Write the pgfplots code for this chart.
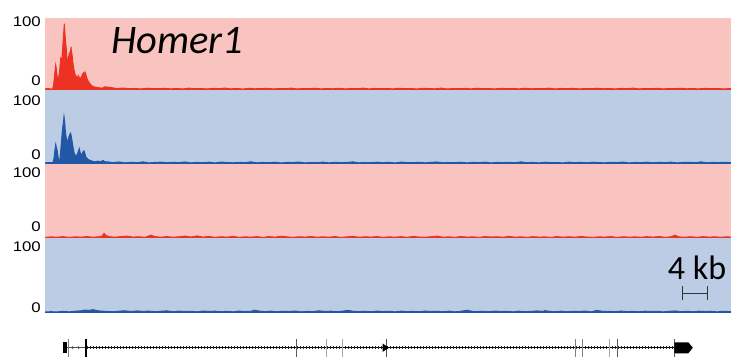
\documentclass[border=0pt]{standalone}
\usepackage{pgfplots}
\pgfplotsset{compat=1.18}
\usepackage{fontspec}
\setmainfont{Liberation Sans}
\newfontfamily\carlito{Carlito}
\newfontfamily\tickfont{Liberation Sans}
\definecolor{pinkbg}{RGB}{249,196,191}
\definecolor{bluebg}{RGB}{188,204,228}
\definecolor{sigred}{RGB}{237,50,36}
\definecolor{sigblue}{RGB}{33,87,165}
\pgfplotsset{track/.style={scale only axis, width=686pt, xmin=0, xmax=686, ymin=0, ymax=100,
  axis line style={draw=none}, xtick=\empty, major tick length=0pt,
  yticklabel style={font=\tickfont\fontsize{14}{14}\selectfont, anchor=east, inner sep=0pt, xshift=-4pt},
  anchor=south west, clip=true}}
\newcommand{\lab}[1]{\scalebox{1.2}[1]{#1}}
\begin{document}
\begin{tikzpicture}[x=1pt,y=1pt]
\useasboundingbox (0pt,0pt) rectangle (731pt,363pt);
% Track 1
\begin{axis}[track, at={(45pt,273pt)}, height=72pt, axis background/.style={fill=pinkbg},
  ytick={13.2,94.9}, yticklabels={{\lab{0}},{\lab{100}}}]
\addplot[fill=sigred, draw=sigred, line width=0.9pt] table[row sep=\\] {x y\\ 0 1.5\\ 3 2\\ 6 1.5\\ 7.5 1\\ 8.5 6\\ 9.5 20\\ 10.7 35\\ 11.5 28\\ 12.3 18\\ 13.3 15\\ 14.5 25\\ 15.7 44\\ 16.7 40\\ 17.5 55\\ 18.3 72\\ 19.3 92\\ 20 78\\ 20.7 66\\ 21.3 58\\ 22.3 35\\ 23 42\\ 23.7 47\\ 24.3 51\\ 25 45\\ 25.7 55\\ 26 60\\ 26.5 54\\ 27 50\\ 27.5 44\\ 28.3 34\\ 29.3 26\\ 30.3 21\\ 31.3 19\\ 32.5 17\\ 33.3 20\\ 34 18\\ 35.5 16\\ 36.7 19\\ 37.5 22\\ 38.3 24\\ 39.3 21\\ 40 25\\ 40.8 22\\ 41.7 17\\ 43 13\\ 44.3 10\\ 45.5 8\\ 46.7 6\\ 48 5\\ 50 4\\ 52 3.5\\ 55 3\\ 57 2.5\\
60 4.5\\ 66 3.5\\ 72 2\\ 78 2.8\\ 84 1.8\\ 90 2.2\\ 96 1.5\\ 102 2.5\\ 108 2\\ 114 1.8\\ 120 2.4\\ 126 1.6\\ 132 2.2\\ 138 1.4\\ 144 2.6\\ 150 1.8\\ 156 2.1\\ 162 1.5\\ 168 2.3\\ 174 1.9\\ 180 2.7\\ 186 1.6\\ 192 2.2\\ 198 1.3\\ 204 2.5\\ 210 1.7\\ 216 2.0\\ 222 2.4\\ 228 1.5\\ 234 2.1\\ 240 1.8\\ 246 2.6\\ 252 1.4\\ 258 2.2\\ 264 1.9\\ 270 2.5\\ 276 1.6\\ 282 2.1\\ 288 1.7\\ 294 2.4\\ 300 1.5\\ 306 2.2\\ 312 1.8\\ 318 2.6\\ 324 1.5\\ 330 2.3\\ 336 1.9\\ 342 2.1\\ 348 1.6\\ 354 2.5\\ 360 1.8\\ 366 2.2\\ 372 1.4\\ 378 2.4\\ 384 2.0\\ 390 1.7\\ 396 2.6\\ 402 1.5\\ 408 2.1\\ 414 1.9\\ 420 2.3\\ 426 1.6\\ 432 2.5\\ 438 1.8\\ 444 2.0\\ 450 1.5\\ 456 2.4\\ 462 1.9\\ 468 2.2\\ 474 1.6\\ 480 2.5\\ 486 1.7\\ 492 2.1\\ 498 1.8\\ 504 2.6\\ 510 1.5\\ 516 2.2\\ 522 1.9\\ 528 2.4\\ 534 1.6\\ 540 2.1\\ 546 1.8\\ 552 2.5\\ 558 1.7\\ 564 2.2\\ 570 1.5\\ 576 2.3\\ 582 1.9\\ 588 2.6\\ 594 1.6\\ 600 2.1\\ 606 1.8\\ 612 2.4\\ 618 1.5\\ 624 2.2\\ 630 1.9\\ 636 2.5\\ 642 1.7\\ 648 2.0\\ 654 1.6\\ 660 2.4\\ 666 1.8\\ 672 2.1\\ 678 1.6\\ 686 2.0\\} \closedcycle;
\end{axis}
% Track 2
\begin{axis}[track, at={(45pt,199pt)}, height=73.5pt, axis background/.style={fill=bluebg},
  ytick={12.7,86.4}, yticklabels={{\lab{0}},{\lab{100}}}]
\addplot[fill=sigblue, draw=sigblue, line width=0.9pt] table[row sep=\\] {x y\\ 0 1.5\\ 3 2\\ 6 1.8\\ 8 2\\ 9 8\\ 10 20\\ 10.7 27\\ 11.5 22\\ 12.3 18\\ 13.3 8\\ 14 2\\ 15 8\\ 15.7 18\\ 16.7 35\\ 17.7 50\\ 18.3 55\\ 19 65\\ 19.7 58\\ 20.3 46\\ 21 38\\ 21.7 32\\ 22.5 30\\ 23.7 36\\ 24.7 40\\ 25.7 42\\ 26.3 38\\ 27 32\\ 28.3 21\\ 29.3 14\\ 30.5 12\\ 31.7 11\\ 33 16\\ 34.3 21\\ 35.5 14\\ 36.5 12\\ 37.7 16\\ 39 18\\ 40 14\\ 41 9\\ 42 8\\ 43.3 6\\ 45 5\\ 47 4\\ 50 3\\ 53 4\\ 56 3\\ 58 5\\ 60 3\\
62 3\\ 68 2\\ 74 2.8\\ 80 1.6\\ 86 2.4\\ 92 1.8\\ 98 2.9\\ 104 1.5\\ 110 2.2\\ 116 2.6\\ 122 1.7\\ 128 2.3\\ 134 1.9\\ 140 2.8\\ 146 1.6\\ 152 2.2\\ 158 1.8\\ 164 2.5\\ 170 1.5\\ 176 2.7\\ 182 2.0\\ 188 1.7\\ 194 2.4\\ 200 1.9\\ 206 3.0\\ 212 1.6\\ 218 2.2\\ 224 1.8\\ 230 2.5\\ 236 1.4\\ 242 2.3\\ 248 2.0\\ 254 2.7\\ 260 1.6\\ 266 2.1\\ 272 1.9\\ 278 2.6\\ 284 1.5\\ 290 2.4\\ 296 1.8\\ 302 2.2\\ 308 2.9\\ 314 1.6\\ 320 2.1\\ 326 1.8\\ 332 2.5\\ 338 1.7\\ 344 2.3\\ 350 1.5\\ 356 2.6\\ 362 2.0\\ 368 1.8\\ 374 2.4\\ 380 1.6\\ 386 2.2\\ 392 2.8\\ 398 1.7\\ 404 2.1\\ 410 1.9\\ 416 2.5\\ 422 1.6\\ 428 2.3\\ 434 1.8\\ 440 2.6\\ 446 1.5\\ 452 2.2\\ 458 1.9\\ 464 2.4\\ 470 1.7\\ 476 2.9\\ 482 1.8\\ 488 2.2\\ 494 1.6\\ 500 2.5\\ 506 1.9\\ 512 2.1\\ 518 1.5\\ 524 2.6\\ 530 1.8\\ 536 2.3\\ 542 1.7\\ 548 2.5\\ 554 2.0\\ 560 1.6\\ 566 2.4\\ 572 1.9\\ 578 2.7\\ 584 1.5\\ 590 2.2\\ 596 1.8\\ 602 2.5\\ 608 1.7\\ 614 2.3\\ 620 1.9\\ 626 2.6\\ 632 1.6\\ 638 2.1\\ 644 2.4\\ 650 1.8\\ 656 2.9\\ 662 1.7\\ 668 2.2\\ 674 1.9\\ 680 2.4\\ 686 1.8\\} \closedcycle;
\end{axis}
% Track 3
\begin{axis}[track, at={(45pt,124.5pt)}, height=74.5pt, axis background/.style={fill=pinkbg},
  ytick={15.8,88}, yticklabels={{\lab{0}},{\lab{100}}}]
\addplot[fill=sigred, draw=sigred, line width=0.9pt] table[row sep=\\] {x y\\ 0 1.6\\ 6 2.2\\ 12 1.8\\ 18 2.5\\ 24 1.5\\ 30 2.3\\ 36 1.9\\ 42 2.6\\ 48 1.7\\ 54 2.4\\ 57 3\\ 59 7\\ 61 4\\ 64 2.5\\ 70 1.8\\ 76 2.6\\ 82 3.2\\ 88 1.9\\ 94 2.4\\ 100 1.6\\ 106 4.5\\ 110 2.5\\ 116 1.8\\ 122 2.6\\ 128 1.7\\ 134 2.3\\ 140 3.2\\ 146 2.0\\ 152 3.5\\ 158 1.9\\ 164 2.8\\ 170 1.6\\ 176 2.4\\ 182 1.8\\ 188 2.9\\ 194 1.6\\ 200 2.2\\ 206 1.9\\ 212 2.5\\ 218 1.5\\ 224 2.6\\ 230 1.8\\ 236 3.1\\ 242 2.2\\ 248 1.6\\ 254 2.4\\ 260 1.9\\ 266 2.7\\ 272 1.7\\ 278 2.3\\ 284 1.8\\ 290 2.6\\ 296 1.5\\ 302 2.2\\ 308 2.9\\ 314 1.7\\ 320 2.4\\ 326 1.9\\ 332 2.6\\ 338 1.6\\ 344 2.3\\ 350 1.8\\ 356 2.5\\ 362 1.6\\ 368 2.8\\ 374 2.0\\ 380 1.7\\ 386 2.4\\ 392 3.2\\ 398 1.8\\ 404 2.2\\ 410 1.6\\ 416 2.7\\ 422 1.9\\ 428 2.3\\ 434 1.5\\ 440 2.6\\ 446 2.0\\ 452 2.4\\ 458 1.7\\ 464 2.9\\ 470 1.8\\ 476 2.3\\ 482 1.6\\ 488 2.5\\ 494 1.9\\ 500 2.2\\ 506 1.5\\ 512 2.6\\ 518 1.8\\ 524 2.4\\ 530 1.7\\ 536 2.8\\ 542 2.0\\ 548 1.6\\ 554 2.3\\ 560 1.9\\ 566 2.6\\ 572 1.5\\ 578 2.4\\ 584 1.8\\ 590 2.2\\ 596 1.7\\ 602 2.5\\ 608 1.9\\ 614 2.7\\ 620 1.6\\ 626 2.3\\ 630 4.5\\ 634 2.1\\ 640 1.8\\ 646 2.4\\ 652 1.6\\ 658 2.5\\ 664 1.9\\ 670 2.3\\ 676 1.7\\ 682 2.4\\ 686 1.8\\} \closedcycle;
\end{axis}
% Track 4
\begin{axis}[track, at={(45pt,50pt)}, height=74.5pt, axis background/.style={fill=bluebg},
  ytick={6.5,88.6}, yticklabels={{\lab{0}},{\lab{100}}}]
\addplot[fill=sigblue, draw=sigblue, line width=0.9pt] table[row sep=\\] {x y\\ 0 1.4\\ 6 1.8\\ 12 1.5\\ 18 2.2\\ 24 1.6\\ 30 2.4\\ 36 3.0\\ 40 4.0\\ 44 3.5\\ 48 4.5\\ 52 3.2\\ 56 2.6\\ 62 2.2\\ 68 1.7\\ 74 2.5\\ 80 3.0\\ 86 2.1\\ 92 2.8\\ 98 2.2\\ 104 2.6\\ 110 1.8\\ 116 2.4\\ 122 2.9\\ 128 1.7\\ 134 2.6\\ 140 2.0\\ 146 2.4\\ 152 1.6\\ 158 2.7\\ 164 2.1\\ 170 2.5\\ 176 1.8\\ 182 2.3\\ 188 1.6\\ 194 2.6\\ 200 2.0\\ 206 2.4\\ 210 3.8\\ 214 2.6\\ 220 1.9\\ 226 2.5\\ 232 1.7\\ 238 2.3\\ 244 2.0\\ 250 2.7\\ 256 1.6\\ 262 2.2\\ 268 1.9\\ 274 3.0\\ 280 2.1\\ 286 2.5\\ 292 1.8\\ 298 2.6\\ 303 3.5\\ 308 2.4\\ 314 1.9\\ 320 2.3\\ 326 1.7\\ 332 2.6\\ 338 2.0\\ 344 2.4\\ 350 1.6\\ 356 2.5\\ 362 1.9\\ 368 2.2\\ 374 1.7\\ 380 2.6\\ 386 2.1\\ 392 2.4\\ 398 1.8\\ 404 2.5\\ 410 1.6\\ 416 2.3\\ 422 3.8\\ 426 2.5\\ 432 1.9\\ 438 2.4\\ 444 1.7\\ 450 2.6\\ 456 2.0\\ 462 2.3\\ 468 1.6\\ 474 2.5\\ 480 1.9\\ 486 2.2\\ 492 2.8\\ 498 2.2\\ 500 3.2\\ 504 2.4\\ 510 1.8\\ 516 2.5\\ 522 1.7\\ 528 2.3\\ 534 2.0\\ 540 2.6\\ 546 1.6\\ 552 3.5\\ 558 2.1\\ 564 2.4\\ 570 1.8\\ 576 2.6\\ 582 1.9\\ 588 2.3\\ 594 1.7\\ 600 2.5\\ 606 2.0\\ 612 2.4\\ 618 1.6\\ 624 2.2\\ 630 2.8\\ 636 1.8\\ 642 2.4\\ 648 1.7\\ 654 2.5\\ 660 2.0\\ 666 2.3\\ 672 1.6\\ 678 2.4\\ 686 1.9\\} \closedcycle;
\end{axis}
% Gene model
\begin{axis}[scale only axis, at={(45pt,0pt)}, anchor=south west, width=686pt, height=30pt,
  xmin=0, xmax=686, ymin=0, ymax=30, hide axis, clip=false]
\draw[black!70, line width=0.5pt] (axis cs:21.7,15.3) -- (axis cs:40.7,15.3);
\draw[black!70, line width=0.5pt] (axis cs:27,16.8) -- (axis cs:28.5,15.3) -- (axis cs:27,13.8);
\draw[black!70, line width=0.5pt] (axis cs:33,16.8) -- (axis cs:34.5,15.3) -- (axis cs:33,13.8);
\draw[black, line width=0.6pt] (axis cs:40.7,15.3) -- (axis cs:629.3,15.3);
\draw[black!85, line width=2.6pt, dash pattern=on 0.6pt off 2.4pt] (axis cs:42,15.3) -- (axis cs:629.3,15.3);
\fill[black] (axis cs:17.7,9.7) rectangle (axis cs:21.7,20.7);
\foreach \xx/\cc in {23.3/50,251.7/65,281/35,297.7/35,341/70,530/50,537.7/50,564/35,572.3/65,629.3/65} {
  \edef\tmp{\noexpand\draw[black!\cc, line width=0.9pt] (axis cs:\xx,6.3) -- (axis cs:\xx,23.5);}\tmp
}
\draw[black, line width=2pt] (axis cs:40.7,6) -- (axis cs:40.7,24);
\fill[black] (axis cs:337.5,19.5) -- (axis cs:344,15.3) -- (axis cs:337.5,11.1) -- cycle;
\fill[black] (axis cs:629.3,20.7) -- (axis cs:643.3,20.7) -- (axis cs:647.8,15.3) -- (axis cs:643.3,9.7) -- (axis cs:629.3,9.7) -- cycle;
\end{axis}
% Annotations
\node[anchor=base west, inner sep=0pt, font=\carlito\itshape\fontsize{40.5}{40.5}\selectfont] at (111pt,309.7pt) {Homer1};
\node[anchor=base, inner sep=0pt, font=\carlito\fontsize{34}{34}\selectfont] at (697pt,83pt) {4 kb};
\draw[black!80, line width=1.1pt] (682.7pt,69.7pt) -- (707.3pt,69.7pt);
\draw[black!80, line width=1.1pt] (682.7pt,62.5pt) -- (682.7pt,76.5pt);
\draw[black!80, line width=1.1pt] (707.3pt,62.5pt) -- (707.3pt,76.5pt);
\end{tikzpicture}
\end{document}
